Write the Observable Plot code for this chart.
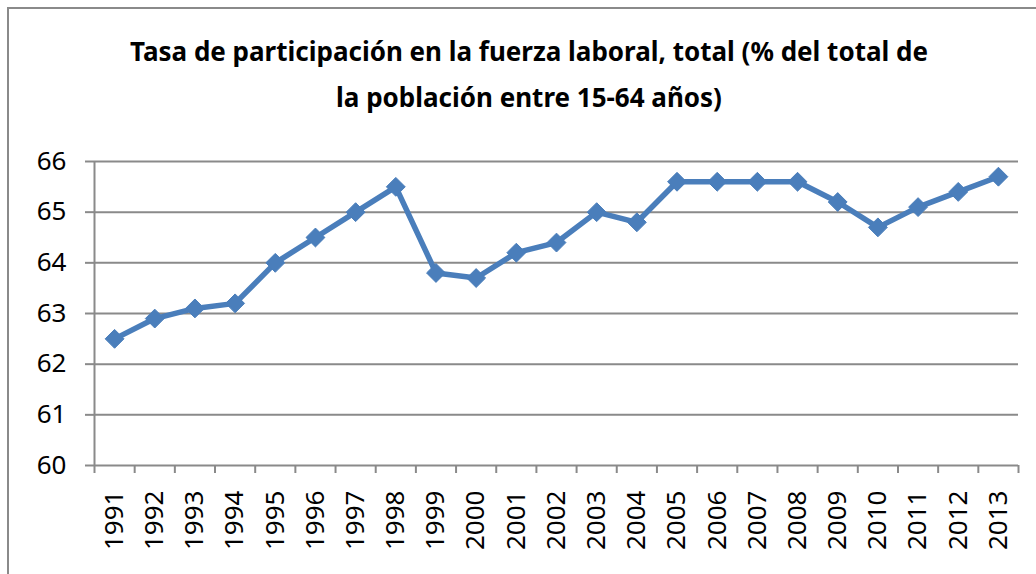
<!DOCTYPE html>
<html>
<head>
<meta charset="utf-8">
<script src="https://cdn.jsdelivr.net/npm/d3@7"></script>
<script src="https://cdn.jsdelivr.net/npm/@observablehq/plot@0.6"></script>
<style>
  html, body { margin: 0; padding: 0; background: #fff; overflow: hidden; }
  #wrap { position: relative; width: 1036px; height: 574px; overflow: hidden; background: #fff; }
  #frame { position: absolute; left: 7px; top: 7px; width: 1060px; height: 600px; border: 2px solid #8a8a8a; box-sizing: border-box; }
  #title { position: absolute; left: 0; top: 0; width: 1058px; height: 130px; text-align: center;
           font-family: "Noto Sans", sans-serif; font-weight: bold; font-size: 26px; line-height: 46px; color: #000;
           padding-top: 28px; box-sizing: border-box; }
  #chart { position: absolute; left: 0; top: 130px; }
</style>
</head>
<body>
<div id="wrap">
  <div id="frame"></div>
  <div id="title">Tasa de participación en la fuerza laboral, total (% del total de<br>la población entre 15-64 años)</div>
  <div id="chart"></div>
</div>
<script>
const years = [1991,1992,1993,1994,1995,1996,1997,1998,1999,2000,2001,2002,2003,2004,2005,2006,2007,2008,2009,2010,2011,2012,2013];
const values = [62.5,62.9,63.1,63.2,64.0,64.5,65.0,65.5,63.8,63.7,64.2,64.4,65.0,64.8,65.6,65.6,65.6,65.6,65.2,64.7,65.1,65.4,65.7];
const yTicks = [60,61,62,63,64,65,66];

const data = years.map((y, i) => ({year: y, value: values[i]}));
const boundaries = [years[0] - 0.5, ...years.map(y => y + 0.5)];
const xDomain = [boundaries[0], boundaries[boundaries.length - 1]];

const gridColor = "#8a8a8a";
const lineColor = "#4a7ebb";

const chart = Plot.plot({
  width: 1036,
  height: 444,
  marginLeft: 94,
  marginRight: 18,
  marginTop: 31,
  marginBottom: 109,
  style: {fontFamily: "'Noto Sans', sans-serif", fontSize: "26px", color: "#000", background: "transparent"},
  x: {type: "linear", domain: xDomain},
  y: {domain: [60, 66]},
  marks: [
    Plot.ruleY(yTicks, {stroke: gridColor, strokeWidth: 2}),
    Plot.ruleX([xDomain[0]], {stroke: gridColor, strokeWidth: 2}),
    Plot.axisY({ticks: yTicks, tickSize: 9, tickPadding: 19, tickFormat: d => String(d), stroke: gridColor, strokeWidth: 2, strokeOpacity: 1, label: null, fill: "#000"}),
    Plot.axisX({ticks: boundaries, tickSize: 8, tickFormat: () => "", stroke: gridColor, strokeWidth: 2, strokeOpacity: 1, label: null}),
    Plot.axisX({ticks: years, tickSize: 0, tickPadding: 25, tickRotate: -90, tickFormat: d => String(d), label: null, fill: "#000"}),
    Plot.line(data, {x: "year", y: "value", stroke: lineColor, strokeWidth: 5.5}),
    Plot.dot(data, {x: "year", y: "value", symbol: "diamond2", r: 8.5, fill: lineColor, stroke: lineColor, strokeWidth: 1})
  ]
});
document.getElementById("chart").appendChild(chart);
</script>
</body>
</html>
